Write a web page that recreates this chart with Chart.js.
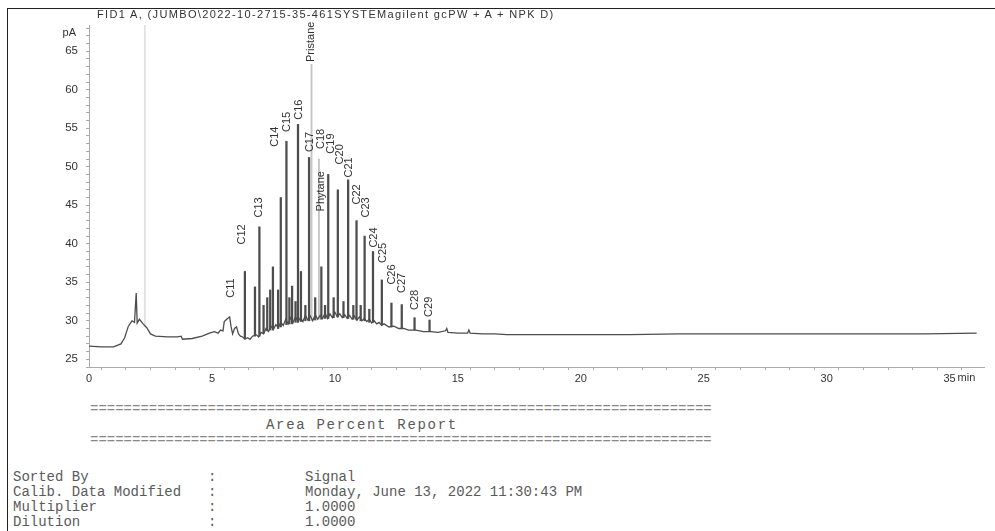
<!DOCTYPE html>
<html>
<head>
<meta charset="utf-8">
<script src="https://cdn.jsdelivr.net/npm/chart.js@4.4.0/dist/chart.umd.min.js"></script>
<style>
  html, body { margin: 0; padding: 0; background: #fff; }
  body { width: 995px; height: 531px; position: relative; overflow: hidden; }
  .frame { position: absolute; left: 7px; top: 8px; right: -2px; bottom: -2px;
           border-left: 1.5px solid #222; border-top: 1.5px solid #222; }
  #chart { position: absolute; left: 0; top: 0; }
  .title { position: absolute; left: 97px; top: 8px; font: 11px "Liberation Sans", Arial, sans-serif;
           letter-spacing: 1.35px; color: #333; white-space: nowrap; }
  .mono { position: absolute; font: 14px "Liberation Mono", "Courier New", monospace; color: #5a5a5a;
          white-space: pre; line-height: 15px; }
</style>
</head>
<body>
<div class="frame"></div>
<canvas id="chart" width="995" height="395"></canvas>
<div class="title">FID1 A, (JUMBO\2022-10-2715-35-461SYSTEMagilent gcPW + A + NPK D)</div>

<div class="mono" style="left:90px; top:402px; color:#888">==========================================================================</div>
<div class="mono" style="left:266px; top:418px; letter-spacing:1.7px">Area Percent Report</div>
<div class="mono" style="left:90px; top:433px; color:#888">==========================================================================</div>

<div class="mono" style="left:13px; top:470px">Sorted By</div>
<div class="mono" style="left:208px; top:470px">:</div>
<div class="mono" style="left:305px; top:470px">Signal</div>
<div class="mono" style="left:13px; top:485px">Calib. Data Modified</div>
<div class="mono" style="left:208px; top:485px">:</div>
<div class="mono" style="left:305px; top:485px">Monday, June 13, 2022 11:30:43 PM</div>
<div class="mono" style="left:13px; top:500px">Multiplier</div>
<div class="mono" style="left:208px; top:500px">:</div>
<div class="mono" style="left:305px; top:500px">1.0000</div>
<div class="mono" style="left:13px; top:515px">Dilution</div>
<div class="mono" style="left:208px; top:515px">:</div>
<div class="mono" style="left:305px; top:515px">1.0000</div>

<script>
// baseline trace (min, pA)
const baseTimes = [0, 0.5, 1.0, 1.3, 1.45, 1.6, 1.75, 1.85, 1.92, 1.96, 2.05, 2.2, 2.35, 2.5, 2.7, 3.2, 3.6, 3.75, 3.8, 4.2,
  4.6, 4.9, 5.1, 5.25, 5.35, 5.45, 5.5, 5.6, 5.72, 5.78, 5.84, 5.92, 6.0, 6.08, 6.16, 6.25, 6.34, 6.45, 6.55, 6.65,
  6.8, 6.9, 7.0, 7.1, 7.2, 7.3, 7.4, 7.5, 7.6, 7.7, 7.8, 7.9, 8.0, 8.1, 8.2, 8.3, 8.4, 8.5, 8.6, 8.7,
  8.8, 8.9, 9.0, 9.1, 9.2, 9.3, 9.4, 9.5, 9.6, 9.7, 9.8, 9.9, 10.0, 10.1, 10.2, 10.3, 10.4, 10.5, 10.6, 10.7,
  10.8, 10.9, 11.0, 11.1, 11.2, 11.3, 11.4, 11.5, 11.6, 11.7, 11.8, 11.9, 12.0, 12.2, 12.4, 12.6, 12.8, 13.0, 13.3, 13.6,
  13.9, 14.2, 14.5, 14.55, 14.6, 15.0, 15.4, 15.45, 15.5, 16.0, 16.5, 17.0, 18, 20, 22, 24, 26, 28, 30, 32, 34, 36.1]
const baseValues = [26.7, 26.6, 26.6, 27.0, 27.8, 29.3, 30.0, 29.8, 33.6, 29.7, 30.2, 29.6, 29.1, 28.3, 28.0, 27.9, 27.9, 28.0, 27.6, 27.7,
  28.0, 28.4, 28.6, 28.4, 28.8, 28.7, 29.9, 30.2, 30.5, 29.2, 28.3, 29.0, 29.2, 28.3, 28.0, 27.9, 27.6, 27.8, 27.6, 28.0,
  28.2, 27.9, 28.5, 28.3, 29.0, 28.6, 29.3, 28.9, 29.5, 29.1, 29.8, 29.4, 30.2, 29.6, 30.4, 29.8, 30.5, 29.9, 30.4, 29.9,
  30.7, 30.1, 30.6, 30.0, 30.8, 30.2, 30.7, 30.3, 31.0, 30.3, 30.9, 30.4, 31.1, 30.5, 30.9, 30.4, 30.8, 30.3, 30.7, 30.2,
  30.6, 30.1, 30.5, 30.0, 30.3, 29.9, 30.2, 29.7, 30.0, 29.6, 29.8, 29.4, 29.6, 29.2, 29.3, 29.0, 29.0, 28.8, 28.8, 28.6,
  28.6, 28.5, 28.7, 29.0, 28.5, 28.4, 28.4, 28.8, 28.4, 28.3, 28.3, 28.2, 28.2, 28.2, 28.2, 28.3, 28.3, 28.3, 28.3, 28.3, 28.3, 28.4]

// resolved peaks: retention time, foot, apex
const peakTimes = [6.34, 6.75, 6.93, 7.1, 7.25, 7.37, 7.48, 7.69, 7.80, 8.03, 8.15, 8.26, 8.40, 8.50, 8.62, 8.80, 8.95, 9.20,
  9.45, 9.60, 9.73, 9.95, 10.12, 10.35, 10.54, 10.75, 10.88, 11.05, 11.21, 11.40, 11.55, 11.91, 12.30, 12.72, 13.24, 13.85]
const peakBases = [27.7, 28.0, 28.0, 28.4, 28.7, 28.8, 28.8, 29.0, 29.2, 29.5, 29.6, 29.6, 29.8, 29.8, 29.9, 30.0, 30.0, 30.1,
  30.2, 30.3, 30.3, 30.4, 30.5, 30.4, 30.3, 30.2, 30.1, 30.0, 30.0, 29.8, 29.8, 29.5, 29.2, 29.0, 28.8, 28.6]
const peakTops = [36.4, 34.4, 42.2, 32.0, 33.0, 34.0, 37.0, 34.0, 46.0, 53.3, 33.0, 34.5, 32.5, 55.5, 36.4, 32.0, 51.2, 33.0,
  37.0, 32.0, 49.0, 33.0, 47.0, 32.5, 48.3, 32.0, 43.0, 32.0, 41.0, 31.5, 39.0, 35.3, 32.3, 32.1, 30.4, 30.1]

// faintly printed peaks (solvent, pristane, C18)
const faintTimes = [2.27, 9.05, 9.35]
const faintBases = [29.2, 30.0, 30.2]
const faintTops = [72, 63.3, 51.0]

// peak annotations
const labelNames = ['C11', 'C12', 'C13', 'C14', 'C15', 'C16', 'Pristane', 'C17', 'C18', 'Phytane', 'C19', 'C20',
  'C21', 'C22', 'C23', 'C24', 'C25', 'C26', 'C27', 'C28', 'C29']
const labelTimes = [5.78, 6.23, 6.92, 7.57, 8.04, 8.54, 9.03, 9.0, 9.42, 9.42, 9.83, 10.19,
  10.57, 10.89, 11.25, 11.58, 11.94, 12.31, 12.71, 13.24, 13.83]
const labelValues = [33.0, 39.9, 43.4, 52.6, 54.5, 56.1, 63.6, 51.9, 52.3, 44.2, 51.7, 50.3,
  48.6, 45.1, 43.4, 39.5, 37.5, 34.7, 33.6, 31.4, 30.5]

const xTicks = [0, 5, 10, 15, 20, 25, 30, 35]
const yTicks = [25, 30, 35, 40, 45, 50, 55, 60, 65]

const font = '"Liberation Sans", Arial, sans-serif'

const peakLabels = {
  id: 'peakLabels',
  afterDatasetsDraw(chart) {
    const ctx = chart.ctx
    const x = chart.scales.x
    const y = chart.scales.y
    ctx.save()
    ctx.font = '11px ' + font
    ctx.fillStyle = '#333'
    ctx.textAlign = 'left'
    ctx.textBaseline = 'middle'
    labelNames.forEach((name, i) => {
      ctx.save()
      ctx.translate(x.getPixelForValue(labelTimes[i]), y.getPixelForValue(labelValues[i]))
      ctx.rotate(-Math.PI / 2)
      ctx.fillText(name, 0, 0)
      ctx.restore()
    })
    // unit captions
    ctx.textAlign = 'right'
    ctx.fillText('pA', x.left - 13, chart.chartArea.top + 8)
    ctx.textAlign = 'left'
    ctx.fillText('min', x.getPixelForValue(35) + 8, chart.chartArea.bottom + 11)
    ctx.restore()
  }
}

const minorTicks = (scale, from, to) => {
  const t = []
  for (let v = from; v <= to; v++) t.push({ value: v })
  scale.ticks = t
}

const ctx = document.getElementById('chart').getContext('2d')

const myChart = new Chart(ctx, {
  type: 'line',
  data: {
    datasets: [{
      label: 'FID1 A',
      data: baseTimes.map((t, i) => ({ x: t, y: baseValues[i] })),
      borderColor: '#4d4d4d',
      borderWidth: 1.3,
      pointRadius: 0,
      tension: 0
    },
    {
      type: 'bar',
      label: 'peaks',
      data: peakTimes.map((t, i) => ({ x: t, y: [peakBases[i], peakTops[i]] })),
      backgroundColor: '#4d4d4d',
      barThickness: 1.6,
      grouped: false
    },
    {
      type: 'bar',
      label: 'faint',
      data: faintTimes.map((t, i) => ({ x: t, y: [faintBases[i], faintTops[i]] })),
      backgroundColor: ['#e0e0e0', '#c4c4c4', '#c4c4c4'],
      barThickness: 1.2,
      grouped: false
    }]
  },
  options: {
    responsive: false,
    animation: false,
    layout: { padding: { top: 25, right: 11, left: 0, bottom: 0 } },
    plugins: { legend: { display: false }, tooltip: { enabled: false } },
    scales: {
      x: {
        type: 'linear',
        min: 0,
        max: 36.4,
        offset: false,
        afterFit: s => { s.height = 28 },
        afterBuildTicks: s => minorTicks(s, 0, 36),
        grid: { drawOnChartArea: false, tickLength: 3, color: '#aaa' },
        border: { color: '#aaa', dash: [1, 3] },
        ticks: {
          autoSkip: false,
          maxRotation: 0,
          padding: 2,
          color: '#333',
          font: { family: font, size: 11 },
          callback: v => (xTicks.includes(v) ? String(v) : '')
        }
      },
      y: {
        min: 24,
        max: 68.4,
        afterFit: s => { s.width = 89 },
        afterBuildTicks: s => minorTicks(s, 24, 68),
        grid: { drawOnChartArea: false, tickLength: 3, color: '#aaa' },
        border: { color: '#aaa', dash: [1, 3] },
        ticks: {
          autoSkip: false,
          padding: 8,
          color: '#333',
          font: { family: font, size: 11.5 },
          callback: v => (yTicks.includes(v) ? String(v) : '')
        }
      }
    }
  },
  plugins: [peakLabels]
})
</script>
</body>
</html>
